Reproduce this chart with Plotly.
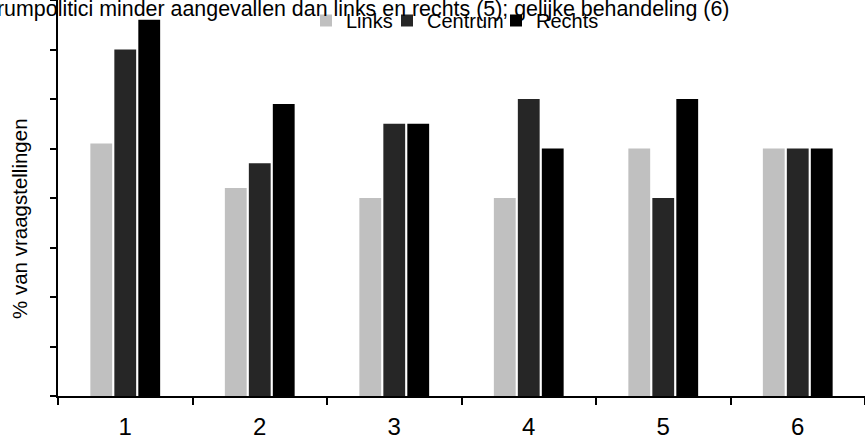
import plotly.graph_objects as go

categories = ["1", "2", "3", "4", "5", "6"]
links = [51, 42, 40, 40, 50, 50]
centrum = [70, 47, 55, 60, 40, 50]
rechts = [76, 59, 55, 50, 60, 50]

series_names = ["Links", "Centrum", "Rechts"]
series_colors = ["#c0c0c0", "#262626", "#000000"]

title_text = "rumpolitici minder aangevallen dan links en rechts (5); gelijke behandeling (6)"
y_title = "% van vraagstellingen"

FONT = "Liberation Sans, Arial, sans-serif"

W, H = 865, 439
ml, mr, mt, mb = 58, 0, 0, 43
pw = W - ml - mr
ph = H - mt - mb

legend_ids = ["legend", "legend2", "legend3"]
legend_left_px = [306, 387, 496]

fig = go.Figure()
for name, vals, col, lid in zip(series_names, [links, centrum, rechts],
                                series_colors, legend_ids):
    fig.add_trace(go.Bar(x=categories, y=vals, name=name, legend=lid,
                         marker=dict(color=col, line=dict(width=0))))

legend_style = dict(orientation="h", xanchor="left",
                    y=1 - 20.5 / ph, yanchor="middle",
                    font=dict(size=20, family=FONT, color="black"),
                    bgcolor="rgba(0,0,0,0)", borderwidth=0)

fig.update_layout(
    width=W, height=H,
    margin=dict(l=ml, r=mr, t=mt, b=mb, autoexpand=False),
    paper_bgcolor="white", plot_bgcolor="white",
    barmode="group", bargap=0.465, bargroupgap=0.09,
    font=dict(family=FONT, color="black"),
    showlegend=True,
    xaxis=dict(type="category", range=[-0.5, 5.5], showline=True,
               linecolor="black", linewidth=2, ticks="outside",
               tickson="boundaries", ticklen=7, tickwidth=2, tickcolor="black",
               showgrid=False, zeroline=False, automargin=False,
               ticklabelstandoff=8,
               tickfont=dict(size=24, family=FONT, color="black")),
    yaxis=dict(range=[0, 80], dtick=10, showline=True, linecolor="black",
               linewidth=2, ticks="outside", ticklen=6, tickwidth=2,
               tickcolor="black", showticklabels=False, showgrid=False,
               zeroline=False, automargin=False),
    annotations=[
        dict(text=title_text, xref="paper", yref="paper",
             x=(731 - ml) / pw, xanchor="right", y=1, yanchor="top",
             yshift=5, showarrow=False,
             font=dict(size=21.4, family=FONT, color="black")),
        dict(text=y_title, xref="paper", yref="paper",
             x=(20 - ml) / pw, xanchor="center", y=1 - 219 / ph,
             yanchor="middle", textangle=-90, showarrow=False,
             font=dict(size=20.5, family=FONT, color="black")),
    ],
)
for lid, px in zip(legend_ids, legend_left_px):
    fig.update_layout({lid: dict(legend_style, x=(px - ml) / pw)})

fig.write_html("out.html", config={"displayModeBar": False},
               post_script="document.body.style.margin='0';")
